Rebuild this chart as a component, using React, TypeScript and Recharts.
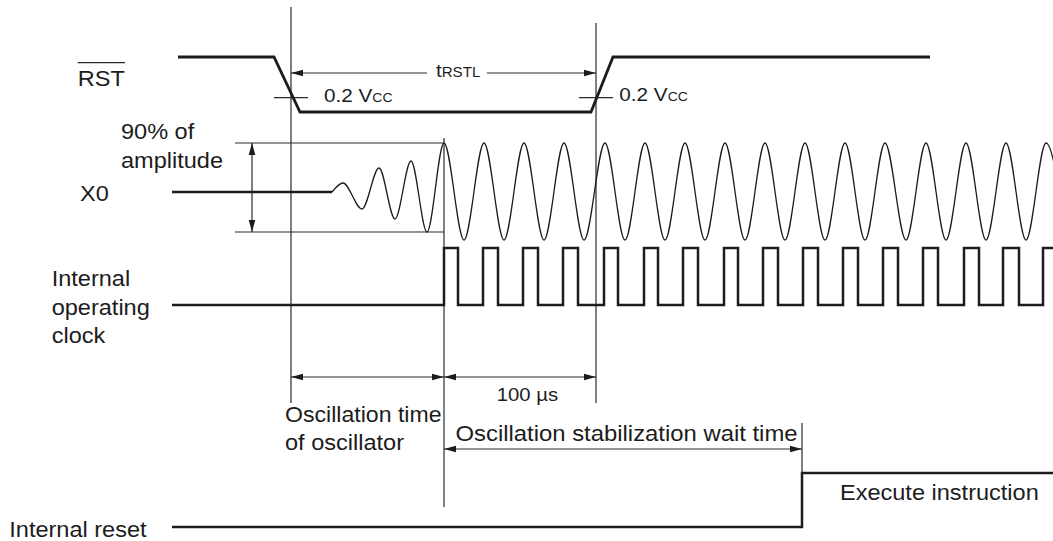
import React from 'react';
import { ComposedChart, Line, XAxis, YAxis, ReferenceLine, ReferenceDot } from 'recharts';

const W = 1053;
const H = 541;
const INK = '#1c1c1c';
const THIN = '#2a2a2a';
const FONT = '"Liberation Sans", Arial, Helvetica, sans-serif';

// ---- signal data (time on x, level on y in diagram units) ----
const rstTimes = [178, 274, 300, 591, 613, 930];
const rstLevels = [57, 57, 112, 112, 57, 57];

const x0IdleTimes = [172, 332];
const x0IdleLevels = [192, 192];

// extremes of the X0 oscillation (start-up, then steady swing)
const oscTimes = [332, 343, 362, 379, 395, 411, 427, 444, 464, 484, 504, 524, 544, 564, 584, 605, 625, 645, 665, 685, 705, 725, 745, 765, 785, 805, 825, 845, 865, 885, 906, 926, 946, 966, 986, 1006, 1026, 1046, 1066];
const oscLevels = [192, 183, 209, 168, 219, 161, 232, 143, 240, 143, 240, 143, 240, 143, 240, 143, 240, 143, 240, 143, 240, 143, 240, 143, 240, 143, 240, 143, 240, 143, 240, 143, 240, 143, 240, 143, 240, 143, 240];

const clockStart = 172;
const clockEnd = 1053;
const clockHigh = 248;
const clockLow = 305;
const clockRises = [444, 483, 523, 563, 604, 644, 683, 724, 763, 803, 843, 883, 923, 964, 1003, 1043];
const clockFalls = [458, 498, 538, 578, 618, 658, 698, 738, 778, 818, 858, 898, 938, 979, 1019];

const resetTimes = [172, 802, 802, 1053];
const resetLevels = [527, 527, 473, 473];

// ---- timing markers ----
const tRstFall = 291;
const tRstRise = 596;
const tOscStable = 444;
const tWaitEnd = 802;

const zip = (ts: number[], vs: number[]) => ts.map((t, i) => ({ t, v: vs[i] }));

const rstData = zip(rstTimes, rstLevels);
const x0IdleData = zip(x0IdleTimes, x0IdleLevels);
const oscData = zip(oscTimes, oscLevels);
const resetData = zip(resetTimes, resetLevels);
const clockData = (() => {
  const pts: { t: number; v: number }[] = [{ t: clockStart, v: clockLow }];
  clockRises.forEach((r, i) => {
    pts.push({ t: r, v: clockLow }, { t: r, v: clockHigh });
    const f = clockFalls[i];
    if (f !== undefined) pts.push({ t: f, v: clockHigh }, { t: f, v: clockLow });
    else pts.push({ t: clockEnd, v: clockHigh });
  });
  return pts;
})();

type Seg = { a: [number, number]; b: [number, number] };
const guideSegs: Seg[] = [
  { a: [tRstFall, 7], b: [tRstFall, 403] },
  { a: [tRstRise, 23], b: [tRstRise, 403] },
  { a: [tOscStable, 138], b: [tOscStable, 507] },
  { a: [tWaitEnd, 423], b: [tWaitEnd, 473] },
  { a: [235, 143], b: [tOscStable, 143] },
  { a: [235, 232], b: [tOscStable, 232] },
  { a: [274, 97.7], b: [308, 97.7] },
  { a: [579, 97.7], b: [613, 97.7] },
  { a: [77.7, 62.7], b: [125, 62.7] },
];

type Arrow = Seg & { s: boolean; e: boolean };
const arrows: Arrow[] = [
  { a: [tRstFall, 73], b: [427, 73], s: true, e: false },
  { a: [487, 73], b: [tRstRise, 73], s: false, e: true },
  { a: [252, 143], b: [252, 232], s: true, e: true },
  { a: [tRstFall, 377], b: [tOscStable, 377], s: true, e: true },
  { a: [tOscStable, 377], b: [tRstRise, 377], s: true, e: true },
  { a: [tOscStable, 449], b: [tWaitEnd, 449], s: true, e: true },
];

type Txt = { x: number; y: number; parts: { s: string; size: number }[]; sx?: number };
const texts: Txt[] = [
  { x: 77.7, y: 85.5, parts: [{ s: 'RST', size: 22 }] },
  { x: 121, y: 139.3, parts: [{ s: '90% of', size: 22 }] },
  { x: 121, y: 167.7, parts: [{ s: 'amplitude', size: 22 }] },
  { x: 80, y: 201, parts: [{ s: 'X0', size: 22 }] },
  { x: 51.7, y: 286, parts: [{ s: 'Internal', size: 22 }] },
  { x: 51.7, y: 315, parts: [{ s: 'operating', size: 22 }] },
  { x: 51.7, y: 343.3, parts: [{ s: 'clock', size: 22 }] },
  { x: 9.3, y: 536.7, parts: [{ s: 'Internal reset', size: 22 }] },
  { x: 324, y: 101.5, parts: [{ s: '0.2 V', size: 18.5 }, { s: 'CC', size: 12.5 }], sx: 1.12 },
  { x: 619.3, y: 101.2, parts: [{ s: '0.2 V', size: 18.5 }, { s: 'CC', size: 12.5 }], sx: 1.12 },
  { x: 436, y: 77.3, parts: [{ s: 't', size: 19 }, { s: 'RSTL', size: 14 }], sx: 1.08 },
  { x: 496.7, y: 401, parts: [{ s: '100 µs', size: 19 }] },
  { x: 285, y: 421.7, parts: [{ s: 'Oscillation time', size: 22 }], sx: 1.05 },
  { x: 285, y: 450.3, parts: [{ s: 'of oscillator', size: 22 }] },
  { x: 455.5, y: 440.7, parts: [{ s: 'Oscillation stabilization wait time', size: 22 }], sx: 1.085 },
  { x: 840, y: 500, parts: [{ s: 'Execute instruction', size: 22 }] },
];

const HEAD_L = 12;
const HEAD_W = 3.3;

const head = (tipX: number, tipY: number, fromX: number, fromY: number) => {
  const dx = tipX - fromX;
  const dy = tipY - fromY;
  const len = Math.hypot(dx, dy) || 1;
  const ux = dx / len;
  const uy = dy / len;
  const bx = tipX - ux * HEAD_L;
  const by = tipY - uy * HEAD_L;
  const px = -uy * HEAD_W;
  const py = ux * HEAD_W;
  return `${tipX},${tipY} ${bx + px},${by + py} ${bx - px},${by - py}`;
};

const arrowShape = (ar: Arrow) => (p: any) => {
  const { x1, y1, x2, y2 } = p;
  return (
    <g>
      <line x1={x1} y1={y1} x2={x2} y2={y2} stroke={THIN} strokeWidth={1.2} />
      {ar.s && <polygon points={head(x1, y1, x2, y2)} fill={INK} />}
      {ar.e && <polygon points={head(x2, y2, x1, y1)} fill={INK} />}
    </g>
  );
};

const textShape = (tx: Txt) => (p: any) => {
  const { cx, cy } = p;
  const sx = tx.sx ?? 1.07;
  return (
    <text
      transform={`translate(${cx} ${cy}) scale(${sx} 1)`}
      x={0}
      y={0}
      fontFamily={FONT}
      fill={INK}
    >
      {tx.parts.map((pt, i) => (
        <tspan key={i} fontSize={pt.size}>
          {pt.s}
        </tspan>
      ))}
    </text>
  );
};

export default function App() {
  return (
    <div style={{ position: 'absolute', left: 0, top: 0, width: W, height: H, background: '#fff' }}>
      <ComposedChart width={W} height={H} margin={{ top: 0, right: 0, bottom: 0, left: 0 }}>
        <XAxis type="number" dataKey="t" domain={[0, W]} allowDataOverflow hide />
        <YAxis type="number" dataKey="v" domain={[0, H]} reversed allowDataOverflow hide />

        {guideSegs.map((g, i) => (
          <ReferenceLine
            key={`g${i}`}
            segment={[{ x: g.a[0], y: g.a[1] }, { x: g.b[0], y: g.b[1] }]}
            stroke={THIN}
            strokeWidth={1.2}
            ifOverflow="visible"
          />
        ))}
        {arrows.map((a, i) => (
          <ReferenceLine
            key={`a${i}`}
            segment={[{ x: a.a[0], y: a.a[1] }, { x: a.b[0], y: a.b[1] }]}
            ifOverflow="visible"
            shape={arrowShape(a)}
          />
        ))}

        <Line data={rstData} dataKey="v" type="linear" stroke={INK} strokeWidth={2.8} dot={false} activeDot={false} isAnimationActive={false} />
        <Line data={x0IdleData} dataKey="v" type="linear" stroke={INK} strokeWidth={2.5} dot={false} activeDot={false} isAnimationActive={false} />
        <Line data={oscData} dataKey="v" type="monotone" stroke={INK} strokeWidth={1.3} dot={false} activeDot={false} isAnimationActive={false} />
        <Line data={clockData} dataKey="v" type="linear" stroke={INK} strokeWidth={2.5} dot={false} activeDot={false} isAnimationActive={false} />
        <Line data={resetData} dataKey="v" type="linear" stroke={INK} strokeWidth={2.5} dot={false} activeDot={false} isAnimationActive={false} />

        {texts.map((t, i) => (
          <ReferenceDot key={`t${i}`} x={t.x} y={t.y} r={0} ifOverflow="visible" shape={textShape(t)} />
        ))}
      </ComposedChart>
    </div>
  );
}
